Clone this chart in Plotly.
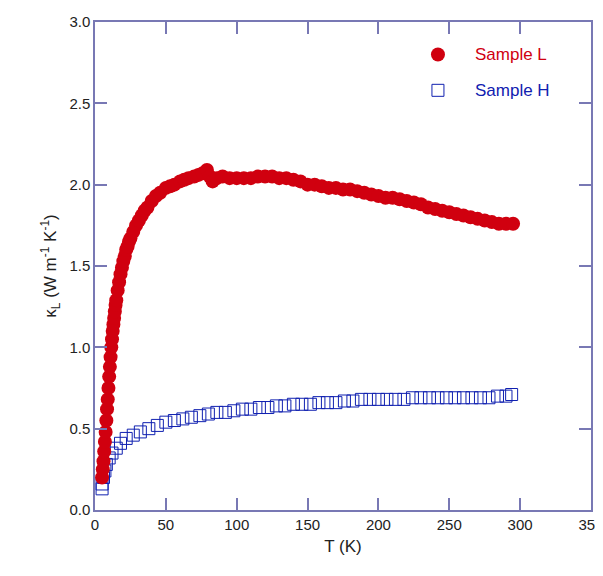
import plotly.graph_objects as go

# Sample L (filled red circles)
t_L = [5, 5.5, 6, 6.5, 7, 7.5, 8, 8.5, 9, 9.5, 10, 10.5, 11, 11.5, 12, 12.5, 13, 13.5, 14, 14.5,
       15, 16, 17, 18, 19, 20, 21, 22, 23, 24, 25, 27, 29, 31, 33, 35, 37, 40, 43, 46, 50, 53, 56,
       60, 63, 66, 70, 73, 76, 79, 81, 83, 86, 90, 95, 100, 105, 110, 115, 120, 125, 130, 135, 140,
       145, 150, 155, 160, 165, 170, 175, 180, 185, 190, 195, 200, 205, 210, 215, 220, 225, 230,
       235, 240, 245, 250, 255, 260, 265, 270, 275, 280, 285, 290, 295]
k_L = [0.20, 0.25, 0.30, 0.36, 0.42, 0.48, 0.55, 0.62, 0.68, 0.75, 0.82, 0.88, 0.94, 1.00, 1.05, 1.10,
       1.14, 1.18, 1.22, 1.26, 1.29, 1.35, 1.40, 1.45, 1.49, 1.53, 1.56, 1.60, 1.62, 1.65, 1.67, 1.71,
       1.75, 1.78, 1.81, 1.84, 1.86, 1.90, 1.93, 1.95, 1.98, 1.99, 2.00, 2.02, 2.03, 2.04, 2.05, 2.06,
       2.07, 2.09, 2.05, 2.02, 2.04, 2.05, 2.04, 2.04, 2.04, 2.04, 2.05, 2.05, 2.05, 2.04, 2.04, 2.03,
       2.02, 2.00, 2.00, 1.99, 1.98, 1.98, 1.97, 1.97, 1.96, 1.95, 1.94, 1.93, 1.92, 1.92, 1.91, 1.90,
       1.89, 1.88, 1.86, 1.85, 1.84, 1.83, 1.82, 1.81, 1.80, 1.79, 1.78, 1.77, 1.76, 1.76, 1.76]

# Sample H (open blue squares)
t_H = [5, 5, 6, 7, 8, 10, 12, 15, 18, 22, 27, 32, 38, 44, 50, 56, 62, 68, 74, 80, 86, 92, 98, 104,
       110, 116, 122, 128, 134, 140, 146, 152, 158, 164, 170, 176, 182, 188, 194, 200, 206, 212, 218,
       224, 230, 236, 242, 248, 254, 260, 266, 272, 278, 284, 290, 294]
k_H = [0.13, 0.16, 0.20, 0.24, 0.28, 0.32, 0.35, 0.38, 0.41, 0.44, 0.46, 0.48, 0.50, 0.52, 0.54, 0.55,
       0.56, 0.57, 0.58, 0.59, 0.60, 0.60, 0.61, 0.62, 0.62, 0.63, 0.63, 0.64, 0.64, 0.65, 0.65, 0.65,
       0.66, 0.66, 0.66, 0.67, 0.67, 0.68, 0.68, 0.68, 0.68, 0.68, 0.68, 0.69, 0.69, 0.69, 0.69, 0.69,
       0.69, 0.69, 0.69, 0.69, 0.69, 0.70, 0.70, 0.71]

RED = "#d0000f"
BLUE = "#1020b0"
AX = "#7878b4"

fig = go.Figure()
fig.add_trace(go.Scatter(x=t_H, y=k_H, mode="markers",
                         marker=dict(symbol="square-open", size=12, color=BLUE, line=dict(width=1))))
fig.add_trace(go.Scatter(x=t_L, y=k_L, mode="markers",
                         marker=dict(symbol="circle", size=14, color=RED, line=dict(width=0))))

# hand-made legend
fig.add_trace(go.Scatter(x=[242], y=[2.80], mode="markers",
                         marker=dict(symbol="circle", size=14, color=RED)))
fig.add_trace(go.Scatter(x=[242], y=[2.58], mode="markers",
                         marker=dict(symbol="square-open", size=12, color=BLUE, line=dict(width=1))))
fig.add_annotation(x=267, y=2.80, text="Sample L", showarrow=False, xanchor="left",
                   font=dict(color=RED, size=17))
fig.add_annotation(x=267, y=2.58, text="Sample H", showarrow=False, xanchor="left",
                   font=dict(color=BLUE, size=17))

axis = dict(showline=True, linecolor=AX, linewidth=1.5, mirror="ticks", ticks="inside",
            ticklen=12, tickcolor=AX, tickwidth=1.5, showgrid=False, zeroline=False,
            automargin=False, tickfont=dict(size=15, color="#222"))
fig.update_xaxes(range=[0, 350], dtick=50, title=dict(text="T (K)", standoff=8, font=dict(size=17, color="#222")), **axis)
fig.update_yaxes(range=[0, 3.0], dtick=0.5, tickformat=".1f",
                 title=dict(text="κ<sub>L</sub> (W m<sup>-1</sup> K<sup>-1</sup>)", standoff=8,
                            font=dict(size=17, color="#222")),
                 **axis)
fig.update_layout(width=603, height=564, showlegend=False, plot_bgcolor="white", paper_bgcolor="white",
                  margin=dict(l=87, r=20, t=14, b=62), font=dict(family="Arial, Liberation Sans"))
fig.write_html("out.html")
